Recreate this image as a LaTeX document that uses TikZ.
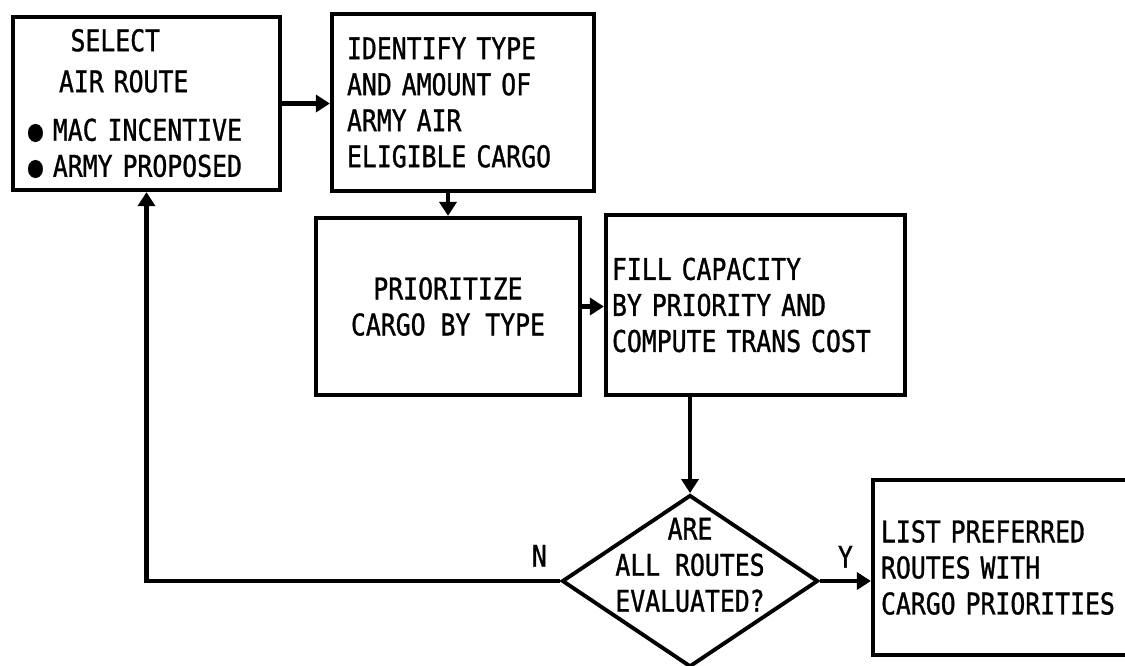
\documentclass[tikz,border=0pt]{standalone}
\usepackage{fontspec}
\newfontfamily\flowfont[FakeStretch=0.83, FakeBold=1]{DejaVu Sans Mono}
\usepackage{tikz}
\usetikzlibrary{positioning, shapes.geometric, arrows.meta}

\newcommand{\flowtext}{\flowfont\fontsize{17}{20.5}\selectfont}

\tikzset{
  proc/.style={draw, line width=2.4pt, font=\flowtext, align=left, inner ysep=0pt},
  decision/.style={draw, diamond, line width=2.2pt, inner sep=0pt,
                   minimum width=5.12cm, minimum height=3.44cm},
  flow/.style={line width=2.8pt, -{Triangle[length=0.28cm, width=0.34cm]}},
  yn/.style={font=\flowtext}
}

\begin{document}
\begin{tikzpicture}
          \useasboundingbox (0,0) rectangle (22.5,-13.3);
          \clip (0,0) rectangle (22.5,-13.3);
          \node[proc, minimum width=5.34cm, minimum height=3.46cm,
                inner xsep=0.3cm, text width=4.74cm] (select) at (2.93,-2.07)
            {\hspace*{0.85cm}SELECT\\[0.1cm]
             \hspace*{0.62cm}AIR ROUTE\\[0.25cm]
             ● MAC INCENTIVE\\
             ● ARMY PROPOSED};
          \node[proc, minimum width=5.24cm, minimum height=3.54cm,
                inner xsep=0.3cm, text width=4.64cm] (ident) at (9.26,-2.05)
            {IDENTIFY TYPE\\AND AMOUNT OF\\ARMY AIR\\ELIGIBLE CARGO};
          \node[proc, align=center, minimum width=5.28cm, minimum height=3.54cm]
            (prior) at (8.96,-6.13)
            {PRIORITIZE\\CARGO BY TYPE};
          \node[proc, minimum width=5.98cm, minimum height=3.6cm,
                inner xsep=0.12cm, text width=5.74cm] (fill) at (15.11,-6.10)
            {FILL CAPACITY\\BY PRIORITY AND\\COMPUTE TRANS COST};
          \node[decision] (eval) at (13.8,-11.62) {};
          \node[yn, align=center] (evaltext) at ([yshift=0.32cm]eval.center)
            {ARE\\ALL ROUTES\\EVALUATED?};
          \node[proc, minimum width=6cm, minimum height=3.5cm,
                inner xsep=0.16cm, text width=5.68cm] (list) at (20.46,-11.35)
            {LIST PREFERRED\\ROUTES WITH\\CARGO PRIORITIES};
          \draw[flow] (select.east) -- (select.east -| ident.west);
          \draw[flow] (ident.south -| prior.north) -- (prior.north);
          \draw[flow] (prior.east) -- (prior.east -| fill.west);
          \draw[flow] (fill.south -| eval.north) -- (eval.north);
          \draw[flow] (eval.east) -- (eval.east -| list.west)
            node[midway, above=0.1cm, yn] {Y};
          \draw[flow] (eval.west) -| (select.south)
            node[pos=0.025, above=0.12cm, yn] {N};
        \end{tikzpicture}
\end{document}
